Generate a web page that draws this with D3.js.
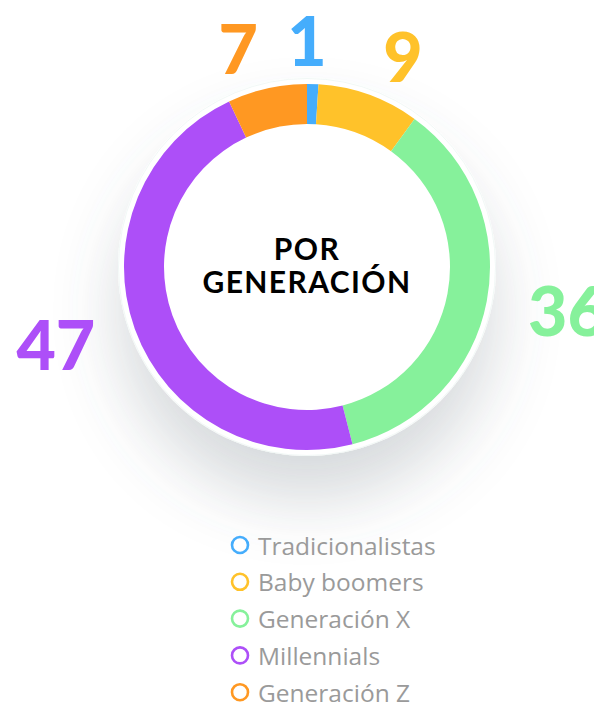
<!DOCTYPE html>
<html><head><meta charset="utf-8">
<script src="https://cdn.jsdelivr.net/npm/d3@7"></script>
<style>
html,body{margin:0;padding:0;background:#fff;}
svg{display:block;}
</style></head>
<body>
<svg id="chart" width="594" height="709"></svg>
<script>
const categories = ["Tradicionalistas","Baby boomers","Generación X","Millennials","Generación Z"];
const values = [1, 9, 36, 47, 7];
const colors = ["#45adfc","#ffc22a","#86f19b","#ad4ff8","#ff9822"];
const centerTitle = ["POR","GENERACIÓN"];

const W = 594, H = 709;
const cx = 307, cy = 267, rOuter = 183, rInner = 143, rLabel = 225;
const svg = d3.select("#chart");
const defs = svg.append("defs");
const f = defs.append("filter").attr("id","sh").attr("x","-60%").attr("y","-60%").attr("width","220%").attr("height","220%");
f.append("feDropShadow").attr("dx",0).attr("dy",44).attr("stdDeviation",32).attr("flood-color","#5a6470").attr("flood-opacity",0.24);

const g = svg.append("g").attr("transform",`translate(${cx},${cy})`);
g.append("circle").attr("r",189).attr("fill","#fff").attr("filter","url(#sh)");
g.append("circle").attr("r",188.5).attr("fill","none").attr("stroke","#eef6f4").attr("stroke-width",0.8);

const pie = d3.pie().value(d=>d).sort(null);
const arcs = pie(values);
const arc = d3.arc().innerRadius(rInner).outerRadius(rOuter);
g.selectAll("path.slice").data(arcs).join("path")
  .attr("class","slice").attr("d",arc).attr("fill",(d,i)=>colors[i]);

// value labels
const fontStack = "'Lato','Open Sans',sans-serif";
g.selectAll("text.val").data(arcs).join("text")
  .attr("class","val")
  .each(function(d,i){
    const a = (d.startAngle+d.endAngle)/2;
    const s = Math.sin(a), c = Math.cos(a);
    const top = Math.abs(s) < 0.1;
    const r = top ? rLabel + 3 : rLabel;
    const x = top ? 0 : r*s, y = -r*c;
    const anchor = top ? "middle" : (s>0 ? "start" : "end");
    d3.select(this).attr("x",x).attr("y",y).attr("text-anchor",anchor);
  })
  .attr("dominant-baseline","central")
  .attr("font-family",fontStack).attr("font-weight",900).attr("font-size",68)
  .attr("fill",(d,i)=>colors[i])
  .text(d=>d.data);

// center title
g.selectAll("text.title").data(centerTitle).join("text")
  .attr("class","title")
  .attr("x",0).attr("y",(d,i)=> -19 + i*33)
  .attr("text-anchor","middle").attr("dominant-baseline","central")
  .attr("font-family",fontStack).attr("font-weight",700).attr("font-size",30)
  .attr("letter-spacing",1.4)
  .attr("fill","#000").text(d=>d);

// legend
const leg = svg.append("g").attr("transform","translate(240,545)");
const row = leg.selectAll("g").data(categories).join("g")
  .attr("transform",(d,i)=>`translate(0,${i*36.8})`);
row.append("circle").attr("r",8).attr("fill","#fff")
  .attr("stroke",(d,i)=>colors[i]).attr("stroke-width",2.6);
row.append("text").attr("x",18).attr("y",0).attr("dominant-baseline","central")
  .attr("font-family","'Open Sans',sans-serif").attr("font-size",24.5)
  .attr("fill","#9a9a9a").text(d=>d);
</script>
</body></html>
